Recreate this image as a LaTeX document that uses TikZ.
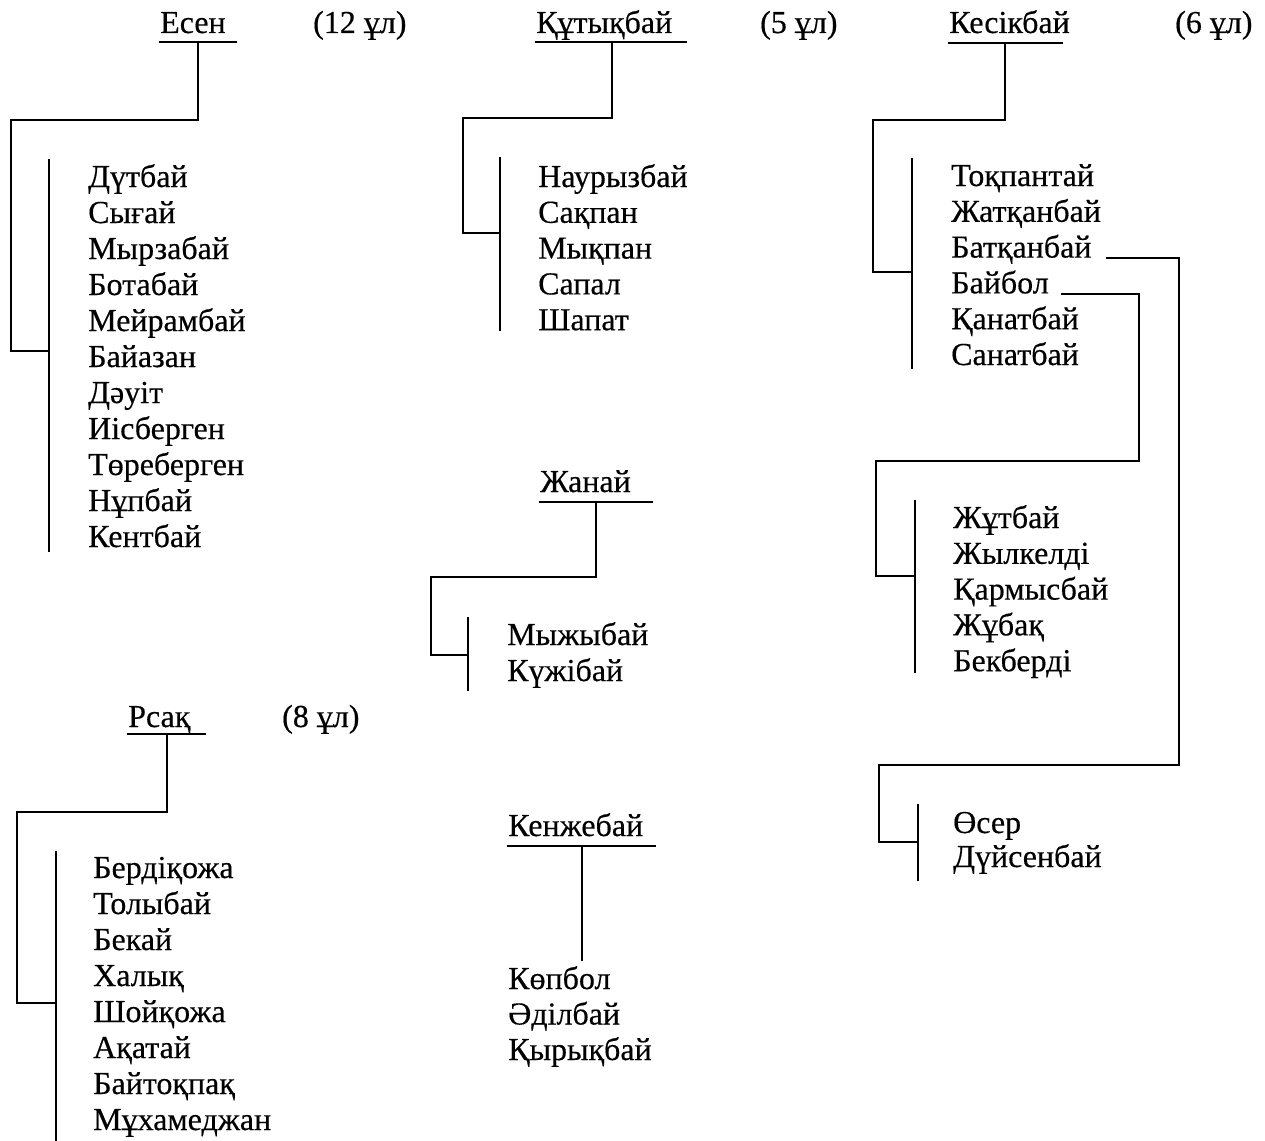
\documentclass[tikz,border=0pt]{standalone}
\usepackage{fontspec}
\setmainfont{Liberation Serif}
\newfontface\scanfont{Liberation Serif}[FakeBold=0.4]
\begin{document}
\begin{tikzpicture}[x=1pt,y=-1pt,
  nm/.style={anchor=base west, inner sep=0pt, font=\scanfont\fontsize{32}{36}\selectfont},
  ln/.style={line width=1.8pt, line cap=rect}]
\useasboundingbox (0,0) rectangle (1265,1140);

% ---------- Есен ----------
\node[nm] (esen) at (160,33) {Есен};
\node[nm] (esenc) at (313,33) {(12 ұл)};
\draw[ln] (160,42) -- (236,42);
\draw[ln] (198,42) -- (198,120) -- (11,120) -- (11,351) -- (49,351);
\draw[ln] (49,160) -- (49,551);
\foreach \t [count=\i] in {Дүтбай,Сығай,Мырзабай,Ботабай,Мейрамбай,Байазан,Дәуіт,Иісберген,Төреберген,Нұпбай,Кентбай}
  \node[nm] (es\i) at (88,{187+36*(\i-1)}) {\t};

% ---------- Құтықбай ----------
\node[nm] (kut) at (536,33) {Құтықбай};
\node[nm] (kutc) at (760,33) {(5 ұл)};
\draw[ln] (536,42) -- (686,42);
\draw[ln] (612,42) -- (612,118) -- (463,118) -- (463,233) -- (500,233);
\draw[ln] (500,158) -- (500,330);
\foreach \t [count=\i] in {Наурызбай,Сақпан,Мықпан,Сапал,Шапат}
  \node[nm] (ku\i) at (538,{187+35.8*(\i-1)}) {\t};

% ---------- Кесікбай ----------
\node[nm] (kes) at (949,33) {Кесікбай};
\node[nm] (kesc) at (1175,33) {(6 ұл)};
\draw[ln] (949,43) -- (1062,43);
\draw[ln] (1005,43) -- (1005,120) -- (873,120) -- (873,272) -- (912,272);
\draw[ln] (912,159) -- (912,368);
\foreach \t [count=\i] in {Тоқпантай,Жатқанбай,Батқанбай,Байбол,Қанатбай,Санатбай}
  \node[nm] (ke\i) at (951,{186+35.8*(\i-1)}) {\t};
% Батқанбай -> Өсер, Дүйсенбай
\draw[ln] (1107,258) -- (1179,258) -- (1179,765) -- (879,765) -- (879,842) -- (917,842);
% Байбол -> Жұтбай ...
\draw[ln] (1062,294) -- (1139,294) -- (1139,461) -- (876,461) -- (876,576) -- (915,576);
\draw[ln] (915,501) -- (915,672);
\foreach \t [count=\i] in {Жұтбай,Жылкелді,Қармысбай,Жұбақ,Бекберді}
  \node[nm] (bb\i) at (953,{528+35.8*(\i-1)}) {\t};
\draw[ln] (918,805) -- (918,880);
\node[nm] (os1) at (953,833) {Өсер};
\node[nm] (os2) at (953,867) {Дүйсенбай};

% ---------- Жанай ----------
\node[nm] (zh) at (540,492) {Жанай};
\draw[ln] (540,502) -- (652,502);
\draw[ln] (596,502) -- (596,577) -- (431,577) -- (431,655) -- (468,655);
\draw[ln] (468,618) -- (468,690);
\node[nm] (zh1) at (507,645) {Мыжыбай};
\node[nm] (zh2) at (507,681) {Күжібай};

% ---------- Рсақ ----------
\node[nm] (rs) at (128,727) {Рсақ};
\node[nm] (rsc) at (282,727) {(8 ұл)};
\draw[ln] (128,734) -- (205,734);
\draw[ln] (167,734) -- (167,812) -- (17,812) -- (17,1003) -- (55,1003);
\draw[ln] (56,852) -- (56,1140);
\foreach \t [count=\i] in {Бердіқожа,Толыбай,Бекай,Халық,Шойқожа,Ақатай,Байтоқпақ,Мұхамеджан}
  \node[nm] (rs\i) at (93,{878+36*(\i-1)}) {\t};

% ---------- Кенжебай ----------
\node[nm] (ken) at (508,836) {Кенжебай};
\draw[ln] (508,846) -- (655,846);
\draw[ln] (582,846) -- (582,960);
\foreach \t [count=\i] in {Көпбол,Әділбай,Қырықбай}
  \node[nm] (kn\i) at (508,{989+35.5*(\i-1)}) {\t};
\end{tikzpicture}
\end{document}
